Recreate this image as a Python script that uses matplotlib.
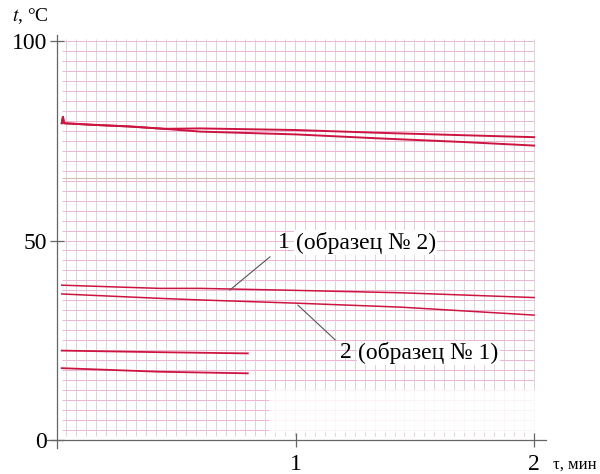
import numpy as np
import matplotlib.pyplot as plt
from matplotlib.patches import Rectangle

plt.rcParams['font.family'] = ['Liberation Serif', 'DejaVu Serif']
plt.rcParams['mathtext.fontset'] = 'stix'

# cooling curves (tau in min, t in deg C)
tau_top = [0.02, 0.025, 0.03, 0.15, 0.3, 0.45, 0.6, 1.0, 1.35, 1.7, 2.0]
top_upper = [79.4, 81.0, 79.4, 79.0, 78.6, 78.0, 78.1, 77.7, 77.0, 76.4, 75.9]
top_lower = [79.4, 81.0, 79.4, 79.0, 78.6, 78.0, 77.3, 76.6, 75.6, 74.7, 73.8]

tau_mid = [0.02, 0.43, 0.6, 1.0, 1.44, 2.0]
curve1 = [38.8, 38.0, 38.0, 37.5, 36.9, 35.7]   # 1 (образец № 2)
curve2 = [36.6, 35.5, 35.1, 34.3, 33.3, 31.3]   # 2 (образец № 1)

tau_low = [0.02, 0.43, 0.8]
low_upper = [22.4, 22.0, 21.7]
low_lower = [18.0, 17.1, 16.7]

yticks = [0, 50, 100]
xticks = [1, 2]

fig = plt.figure(figsize=(6, 4.74), dpi=100)
ax = fig.add_axes([0.079, 0.055, 0.831, 0.871])
ax.set_xlim(-0.04, 2.05)
ax.set_ylim(-2, 101.5)

# chart paper grid
ax.hlines(np.arange(2.5, 100.1, 2.5), 0.02, 2.0, color='#eeb2d6', lw=0.7, zorder=1)
ax.vlines(np.arange(0.04, 2.01, 1 / 24), 1.0, 100.5, color='#d8cbce', lw=0.6, zorder=1)
ax.hlines([65.7], 0.02, 2.0, color='#cdbfb2', lw=0.8, zorder=1)
ax.add_patch(Rectangle((0.89, 1.8), 1.12, 10.7, color='white', alpha=0.85, lw=0, zorder=2))

red = '#cc1440'
ax.plot(tau_top, top_upper, color=red, lw=1.4, zorder=3)
ax.plot(tau_top, top_lower, color=red, lw=1.4, zorder=3)
ax.plot(tau_mid, curve1, color=red, lw=1.1, zorder=3)
ax.plot(tau_mid, curve2, color=red, lw=1.1, zorder=3)
ax.plot(tau_low, low_upper, color=red, lw=1.3, zorder=3)
ax.plot(tau_low, low_lower, color=red, lw=1.3, zorder=3)

# leader lines and labels
ax.plot([0.725, 0.893], [37.6, 45.9], color='#555555', lw=0.8, zorder=4)
ax.plot([1.01, 1.166], [33.8, 25.1], color='#555555', lw=0.8, zorder=4)
ax.text(0.95, 49.4, '1', fontsize=17, ha='center', va='center', zorder=5)
ax.text(1.0, 49.4, '(образец № 2)', fontsize=17, ha='left', va='center', zorder=5,
        bbox=dict(facecolor='white', edgecolor='none', pad=1))
ax.text(1.21, 21.8, '2', fontsize=17, ha='center', va='center', zorder=5)
ax.text(1.262, 21.8, '(образец № 1)', fontsize=17, ha='left', va='center', zorder=5,
        bbox=dict(facecolor='white', edgecolor='none', pad=1))

for s in ['top', 'right']:
    ax.spines[s].set_visible(False)
ax.spines['left'].set_position(('data', 0))
ax.spines['bottom'].set_position(('data', 0))
for s in ['left', 'bottom']:
    ax.spines[s].set_color('#666666')
    ax.spines[s].set_linewidth(0.9)
    ax.spines[s].set_zorder(6)

ax.set_yticks(yticks)
ax.set_xticks(xticks)
ax.tick_params(axis='both', direction='inout', length=10, width=0.9, color='#666666',
               labelsize=17)
ax.tick_params(axis='x', pad=5)
ax.tick_params(axis='y', pad=2)

fig.text(0.02, 1 - 16 / 474, r'$t$, °C', fontsize=14, ha='left', va='center')
ax.text(2.08, -6.3, 'τ, мин', fontsize=12, ha='left', va='center', clip_on=False)

fig.savefig('out.png', dpi=100)
